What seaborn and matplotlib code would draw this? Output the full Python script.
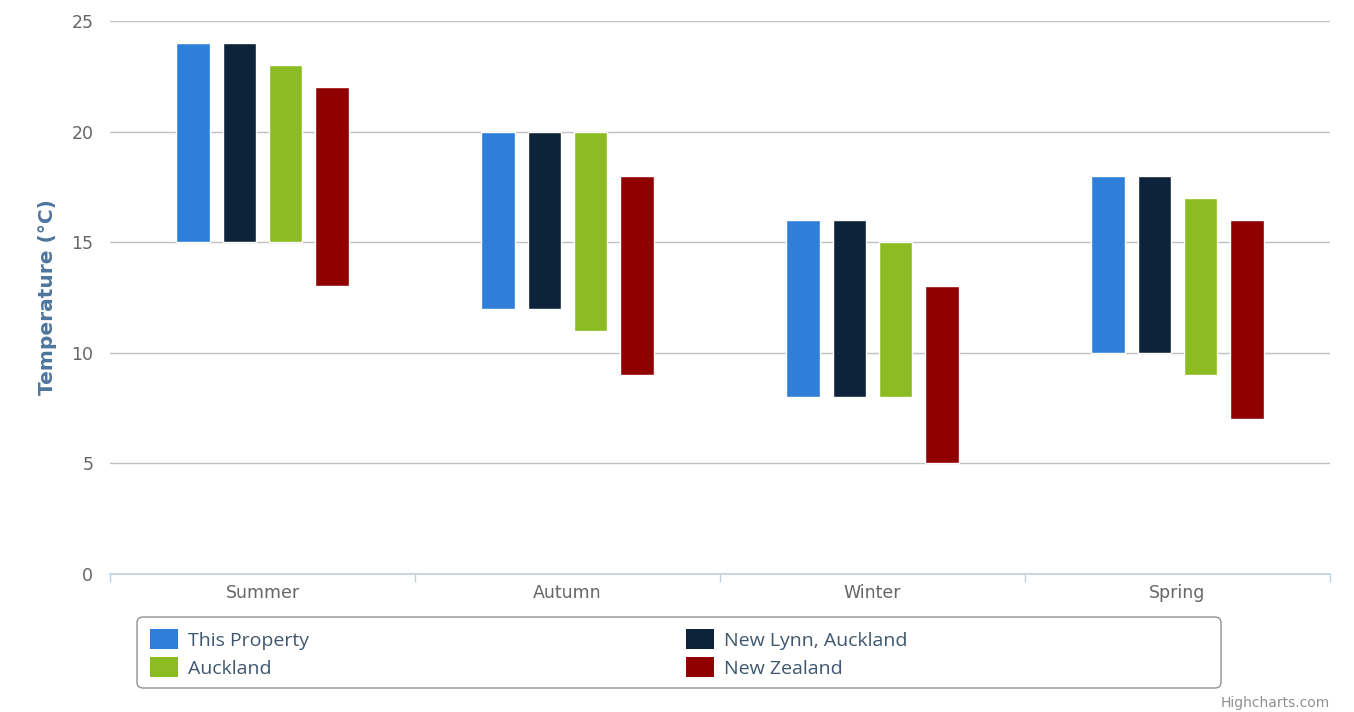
import numpy as np
import matplotlib.pyplot as plt
import pandas as pd
import seaborn as sns
from matplotlib.patches import Patch, FancyBboxPatch
from matplotlib.transforms import IdentityTransform

seasons = ['Summer', 'Autumn', 'Winter', 'Spring']
series = ['This Property', 'New Lynn, Auckland', 'Auckland', 'New Zealand']
colors = ['#2F7ED8', '#0D233A', '#8BBC21', '#910000']

# min / max temperature per season for each series
low = {
    'This Property':      [15, 12, 8, 10],
    'New Lynn, Auckland': [15, 12, 8, 10],
    'Auckland':           [15, 11, 8, 9],
    'New Zealand':        [13, 9, 5, 7],
}
high = {
    'This Property':      [24, 20, 16, 18],
    'New Lynn, Auckland': [24, 20, 16, 18],
    'Auckland':           [23, 20, 15, 17],
    'New Zealand':        [22, 18, 13, 16],
}

rows = []
for s in series:
    for i, season in enumerate(seasons):
        rows.append({'season': season, 'series': s, 'low': low[s][i], 'high': high[s][i]})
df = pd.DataFrame(rows)

sns.set_theme(style='white')
plt.rcParams['font.family'] = ['DejaVu Sans']

W, H = 1354, 712
fig = plt.figure(figsize=(W/100, H/100), dpi=100)
ax = fig.add_axes([110/W, 1-574/H, 1220/W, 553/H])

step = 0.151
width = 0.111
for j, s in enumerate(series):
    d = df[df['series'] == s]
    xpos = np.arange(len(seasons)) + (j - 1.5) * step
    ax.bar(xpos, d['high'] - d['low'], bottom=d['low'], width=width,
           color=colors[j], edgecolor='white', linewidth=1, zorder=3)

ax.set_xlim(-0.5, 3.5)
ax.set_ylim(0, 25)
ax.set_yticks([0, 5, 10, 15, 20, 25])
ax.yaxis.grid(True, color='#C0C0C0', linewidth=1, zorder=0)
ax.xaxis.grid(False)
for sp in ['top', 'right', 'left']:
    ax.spines[sp].set_visible(False)
ax.spines['bottom'].set_color('#C0D0E0')
ax.spines['bottom'].set_linewidth(1.2)
ax.spines['bottom'].set_zorder(4)

ax.set_xticks([-0.5, 0.5, 1.5, 2.5, 3.5])
ax.set_xticklabels([])
ax.tick_params(axis='x', length=6, width=1, color='#C0D0E0', direction='out', bottom=True)
ax.set_xticks(np.arange(len(seasons)), minor=True)
ax.set_xticklabels(seasons, minor=True)
ax.tick_params(axis='x', which='minor', length=0, labelsize=12.5, labelcolor='#666666', pad=7)
ax.tick_params(axis='y', length=0, labelsize=12.5, labelcolor='#666666', pad=12)

ax.set_ylabel('Temperature (°C)', fontsize=14.5, fontweight='bold', color='#4D759E')
ax.yaxis.set_label_coords((57-110)/1220, 0.5)

# legend: frame drawn separately, two columns placed like the original
frame = FancyBboxPatch((137, H-688), 1084, 71, boxstyle='round,pad=0,rounding_size=6',
                       transform=IdentityTransform(), facecolor='white',
                       edgecolor='#909090', linewidth=1)
fig.add_artist(frame)

cols = [(150, [0, 2]), (686, [1, 3])]
for xpix, idx in cols:
    leg = fig.legend([Patch(facecolor=colors[k], edgecolor='none') for k in idx],
                     [series[k] for k in idx],
                     loc='upper left', bbox_to_anchor=(xpix/W, 1-629/H),
                     frameon=False, prop={'family': 'Open Sans', 'size': 14},
                     handlelength=1.44, handleheight=1.2, handletextpad=0.5,
                     labelspacing=0.4, borderpad=0, borderaxespad=0)
    for t in leg.get_texts():
        t.set_color('#3E576F')

fig.text(1330/W, 1-703/H, 'Highcharts.com', ha='right', va='center',
         fontsize=10, color='#909090')

fig.savefig('out.png', dpi=100)
